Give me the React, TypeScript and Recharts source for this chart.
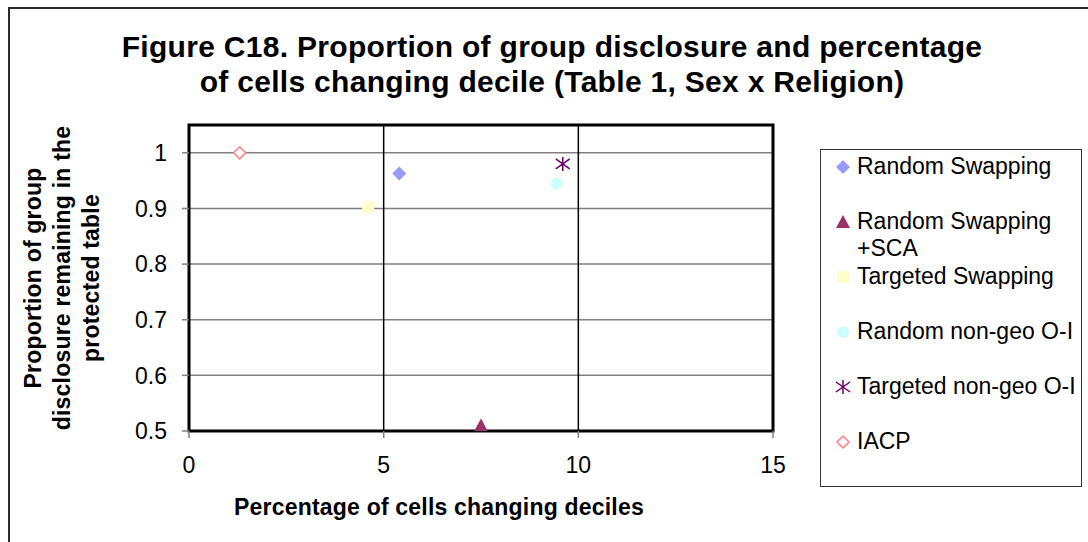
import React from "react";
import {
  ScatterChart,
  Scatter,
  XAxis,
  YAxis,
  CartesianGrid,
  ReferenceLine,
  ReferenceArea,
} from "recharts";

// values
const seriesNames = [
  "Random Swapping",
  "Random Swapping +SCA",
  "Targeted Swapping",
  "Random non-geo O-I",
  "Targeted non-geo O-I",
  "IACP",
];
const cellsChanging = [5.4, 7.5, 4.6, 9.45, 9.6, 1.3];
const disclosureRemaining = [0.963, 0.51, 0.902, 0.945, 0.98, 1.0];
const markerKinds = ["diamond", "triangle", "square", "circle", "asterisk", "hollowDiamond"];
const markerColors = ["#9999FF", "#993366", "#FFFFCC", "#CCFFFF", "#660066", "#FF8080"];

const xTicks = [0, 5, 10, 15];
const yTicks = [0.5, 0.6, 0.7, 0.8, 0.9, 1];

const FONT = '"Liberation Sans", Arial, sans-serif';

const Marker = ({ kind, color, cx, cy, s = 7 }: any) => {
  if (cx == null || cy == null) return null;
  switch (kind) {
    case "diamond":
      return (
        <polygon
          points={`${cx},${cy - s} ${cx + s},${cy} ${cx},${cy + s} ${cx - s},${cy}`}
          fill={color}
        />
      );
    case "triangle":
      return (
        <polygon
          points={`${cx},${cy - s} ${cx + s},${cy + s - 1} ${cx - s},${cy + s - 1}`}
          fill={color}
        />
      );
    case "square":
      return <rect x={cx - s + 1} y={cy - s + 1} width={2 * s - 2} height={2 * s - 2} fill={color} />;
    case "circle":
      return <circle cx={cx} cy={cy} r={s - 1} fill={color} />;
    case "asterisk":
      return (
        <g stroke={color} strokeWidth={1.5}>
          <line x1={cx} y1={cy - s} x2={cx} y2={cy + s} />
          <line x1={cx - s} y1={cy - s + 2} x2={cx + s} y2={cy + s - 2} />
          <line x1={cx - s} y1={cy + s - 2} x2={cx + s} y2={cy - s + 2} />
        </g>
      );
    default:
      return (
        <polygon
          points={`${cx},${cy - s + 1} ${cx + s - 1},${cy} ${cx},${cy + s - 1} ${cx - s + 1},${cy}`}
          fill="#fff"
          stroke={color}
          strokeWidth={1.5}
        />
      );
  }
};

const LegendBox = () => (
  <div
    style={{
      position: "absolute",
      left: 820,
      top: 149,
      width: 262,
      height: 338,
      border: "1px solid #333",
      boxSizing: "border-box",
      paddingTop: 3,
      fontFamily: FONT,
      fontSize: 23,
      lineHeight: "27px",
      background: "#fff",
    }}
  >
    {seriesNames.map((name, i) => (
      <div key={name} style={{ position: "relative", height: 55 }}>
        <svg width={20} height={20} style={{ position: "absolute", left: 12, top: 4 }}>
          <Marker kind={markerKinds[i]} color={markerColors[i]} cx={10} cy={10} s={7} />
        </svg>
        <div style={{ position: "absolute", left: 36, width: 226 }}>{name}</div>
      </div>
    ))}
  </div>
);

export default function App() {
  return (
    <div
      style={{
        position: "absolute",
        left: 0,
        top: 0,
        width: 1088,
        height: 542,
        background: "#fff",
        overflow: "hidden",
        fontFamily: FONT,
      }}
    >
      <div
        style={{
          position: "absolute",
          left: 8,
          top: 7,
          width: 1200,
          height: 700,
          border: "2px solid #2b2b2b",
        }}
      />
      <div
        style={{
          position: "absolute",
          left: 0,
          width: 1104,
          top: 29,
          textAlign: "center",
          fontWeight: "bold",
          fontSize: 30,
          letterSpacing: 0.3,
          lineHeight: "35px",
        }}
      >
        Figure C18. Proportion of group disclosure and percentage
        <br />
        of cells changing decile (Table 1, Sex x Religion)
      </div>
      <div
        style={{
          position: "absolute",
          left: 62 - 200,
          top: 278 - 45,
          width: 400,
          height: 90,
          transform: "rotate(-90deg)",
          textAlign: "center",
          fontWeight: "bold",
          fontSize: 23,
          letterSpacing: 0.2,
          lineHeight: "29px",
          display: "flex",
          flexDirection: "column",
          justifyContent: "center",
        }}
      >
        <div>Proportion of group</div>
        <div>disclosure remaining in the</div>
        <div>protected table</div>
      </div>
      <div
        style={{
          position: "absolute",
          left: 189,
          width: 500,
          top: 494,
          textAlign: "center",
          fontWeight: "bold",
          fontSize: 23,
          letterSpacing: 0.2,
        }}
      >
        Percentage of cells changing deciles
      </div>

      <div style={{ position: "absolute", left: 0, top: 0 }}>
        <ScatterChart
          width={1088}
          height={542}
          margin={{ top: 125, right: 315, bottom: 81, left: 129 }}
        >
          <CartesianGrid vertical={false} stroke="#808080" strokeWidth={1.5} />
          <XAxis
            type="number"
            dataKey="x"
            domain={[0, 15]}
            ticks={xTicks}
            height={30}
            axisLine={false}
            tickSize={7}
            tickMargin={19}
            tickLine={{ stroke: "#808080", strokeWidth: 1.5 }}
            tick={{ fill: "#000", fontSize: 23, fontFamily: FONT }}
            allowDataOverflow
          />
          <YAxis
            type="number"
            dataKey="y"
            domain={[0.5, 1.05]}
            ticks={yTicks}
            width={60}
            axisLine={false}
            tickSize={7}
            tickMargin={15}
            tickLine={{ stroke: "#808080", strokeWidth: 1.5 }}
            tick={{ fill: "#000", fontSize: 23, fontFamily: FONT }}
            allowDataOverflow
          />
          {xTicks.slice(1, 3).map((t) => (
            <ReferenceLine key={t} x={t} stroke="#000" strokeWidth={1.5} />
          ))}
          <ReferenceArea
            x1={0}
            x2={15}
            y1={0.5}
            y2={1.05}
            fill="none"
            stroke="#000"
            strokeWidth={3}
          />
          {seriesNames.map((name, i) => (
            <Scatter
              key={name}
              name={name}
              data={[{ x: cellsChanging[i], y: disclosureRemaining[i] }]}
              isAnimationActive={false}
              shape={(p: any) => (
                <Marker kind={markerKinds[i]} color={markerColors[i]} cx={p.cx} cy={p.cy} />
              )}
            />
          ))}
        </ScatterChart>
      </div>
      <LegendBox />
    </div>
  );
}
